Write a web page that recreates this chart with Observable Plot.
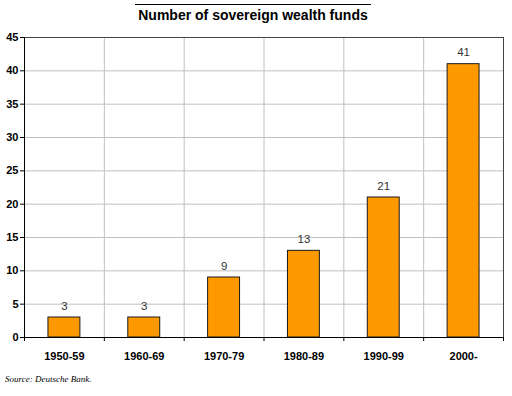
<!DOCTYPE html>
<html><head><meta charset="utf-8">
<script src="https://cdn.jsdelivr.net/npm/d3@7"></script>
<script src="https://cdn.jsdelivr.net/npm/@observablehq/plot@0.6"></script>
<style>
body{margin:0;background:#fff;}
#wrap{position:relative;width:512px;height:396px;font-family:"Liberation Sans",Arial,sans-serif;}
#title{position:absolute;left:0;width:506px;top:4px;text-align:center;}
#title span{display:inline-block;border-top:1.5px solid #000;padding:2px 3px 0 3px;font-weight:bold;font-size:14px;color:#000;}
#cap{position:absolute;left:5px;top:374px;font-family:"Liberation Serif","Times New Roman",serif;font-style:italic;font-size:9px;color:#000;}
#chart{position:absolute;left:0;top:0;}
</style></head>
<body><div id="wrap"><div id="chart"></div><div id="title"><span>Number of sovereign wealth funds</span></div><div id="cap">Source: Deutsche Bank.</div></div>
<script>
const categories = ["1950-59","1960-69","1970-79","1980-89","1990-99","2000-"];
const values = [3, 3, 9, 13, 21, 41];
const yTicks = [0,5,10,15,20,25,30,35,40,45];

const data = categories.map((c,i)=>({cat:c, i, v:values[i]}));
const bounds = d3.range(categories.length+1);

const chart = Plot.plot({
  width:512, height:396,
  marginTop:37, marginBottom:59, marginLeft:24, marginRight:9,
  style:{fontFamily:"'Liberation Sans', Arial, sans-serif", background:"transparent"},
  x:{domain:[0,categories.length], label:null},
  y:{domain:[0,45], label:null},
  marks:[
    Plot.gridY(yTicks,{stroke:"#c0c0c0", strokeOpacity:1}),
    Plot.gridX(bounds,{stroke:"#c0c0c0", strokeOpacity:1}),
    Plot.frame({stroke:"#444"}),
    Plot.rectY(data,{x1:d=>d.i+0.3, x2:d=>d.i+0.7, y:"v", fill:"#FF9900", stroke:"#1a1a1a", strokeWidth:1}),
    Plot.text(data,{x:d=>d.i+0.5, y:"v", text:d=>String(d.v), lineAnchor:"bottom", dy:-8, fontSize:11.5, fill:"#333"}),
    Plot.axisY(yTicks,{tickSize:4, tickPadding:2, fontSize:11, fontWeight:"bold", fill:"#000", stroke:"#000", label:null}),
    Plot.axisX(bounds,{tickSize:4, text:null, stroke:"#000", label:null}),
    Plot.axisX(data.map(d=>d.i+0.5),{tickSize:0, tickPadding:15, tickFormat:(d)=>categories[Math.floor(d)], fontSize:11, fontWeight:"bold", fill:"#000", label:null}),
    Plot.ruleY([0],{stroke:"#000"}),
    Plot.ruleX([0],{stroke:"#000"})
  ]
});
document.getElementById("chart").appendChild(chart);
</script></body></html>
